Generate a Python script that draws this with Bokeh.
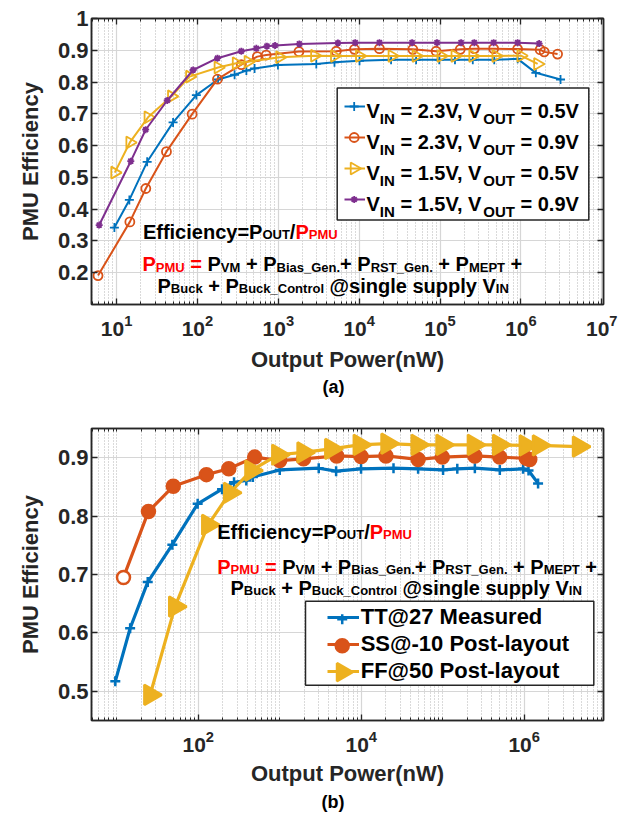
import math
from bokeh.plotting import figure
from bokeh.models import (Range1d, FixedTicker, LogAxis, LinearAxis, Label, BoxAnnotation,
                          Legend, LegendItem, NumeralTickFormatter, CustomJSTickFormatter, Title)
from bokeh.layouts import column
from bokeh.embed import file_html
from bokeh.resources import INLINE

# ---------------- data: panel (a) ----------------
a_blue_x = [9.4, 14.4, 23.9, 50, 97, 180, 288, 403, 509, 990, 2950, 4950, 10100, 24800,
            50600, 97700, 153000, 254000, 468000, 912000, 1530000, 3090000]
a_blue_y = [0.342, 0.429, 0.549, 0.673, 0.759, 0.808, 0.823, 0.836, 0.843, 0.854, 0.857,
            0.862, 0.867, 0.870, 0.870, 0.870, 0.870, 0.870, 0.870, 0.873, 0.829, 0.808]

a_orange_x = [5.9, 14.6, 23, 41.4, 86, 177, 349, 550, 708, 1800, 5200, 8750, 17800, 46000,
              89300, 178000, 265000, 460000, 910000, 1730000, 1940000, 2840000]
a_orange_y = [0.191, 0.360, 0.465, 0.581, 0.699, 0.809, 0.855, 0.880, 0.885, 0.896, 0.897,
              0.903, 0.905, 0.903, 0.897, 0.903, 0.905, 0.905, 0.904, 0.902, 0.895, 0.888]

a_yellow_x = [9.5, 14.6, 24.5, 47.8, 80, 180, 302, 423, 1040, 2810, 4950, 10100, 25500,
              50600, 103000, 153000, 254000, 491000, 1000000, 1610000]
a_yellow_y = [0.515, 0.610, 0.689, 0.755, 0.817, 0.846, 0.859, 0.864, 0.878, 0.883, 0.882,
              0.882, 0.882, 0.882, 0.882, 0.882, 0.882, 0.882, 0.883, 0.857]

a_purple_x = [6.1, 15, 22.9, 42.3, 88.5, 177, 349, 535, 724, 912, 1820, 5460, 8930, 17800,
              45100, 91800, 182000, 265000, 460000, 910000, 1680000]
a_purple_y = [0.350, 0.551, 0.650, 0.742, 0.838, 0.875, 0.897, 0.906, 0.913, 0.915, 0.920,
              0.923, 0.924, 0.924, 0.924, 0.924, 0.924, 0.924, 0.924, 0.924, 0.921]

a_vin = ["2.3", "2.3", "1.5", "1.5"]
a_vout = ["0.5", "0.9", "0.5", "0.9"]
a_xticks = [1e1, 1e2, 1e3, 1e4, 1e5, 1e6, 1e7]
a_yticks = [0.2, 0.3, 0.4, 0.5, 0.6, 0.7, 0.8, 0.9, 1.0]

# ---------------- data: panel (b) ----------------
b_blue_x = [9.6, 14.6, 24, 48.1, 98.4, 196, 275, 389, 468, 1000, 3010, 4920, 9950, 24900,
            49900, 101000, 151000, 248000, 502000, 968000, 1130000, 1480000]
b_blue_y = [0.517, 0.608, 0.687, 0.751, 0.821, 0.846, 0.858, 0.861, 0.867, 0.879, 0.882,
            0.877, 0.881, 0.882, 0.881, 0.879, 0.881, 0.882, 0.879, 0.881, 0.878, 0.856]

b_orange_x = [12.1, 24.5, 49.4, 126, 237, 493, 1000, 1960, 5000, 9950, 20100, 49900, 98900,
              248000, 501000, 1060000, 1170000]
b_orange_y = [0.695, 0.808, 0.851, 0.871, 0.881, 0.901, 0.895, 0.898, 0.903, 0.902, 0.903,
              0.897, 0.901, 0.903, 0.901, 0.899, 0.897]

b_yellow_x = [25.7, 51.9, 132, 245, 447, 955, 1950, 4270, 9550, 20900, 49000, 98900, 240000,
              490000, 1040000, 1510000, 4680000]
b_yellow_y = [0.494, 0.645, 0.785, 0.840, 0.878, 0.905, 0.909, 0.915, 0.922, 0.924, 0.922,
              0.922, 0.922, 0.922, 0.921, 0.921, 0.919]

b_labels = ["TT@27 Measured", "SS@-10 Post-layout", "FF@50 Post-layout"]
b_xticks = [1e2, 1e4, 1e6]
b_yticks = [0.5, 0.6, 0.7, 0.8, 0.9]

# ---------------- style ----------------
FONT = "Liberation Sans"
AX = "#262626"
TXT = "#000000"
RED = "#FF0000"
BLUE, ORANGE, YELLOW, PURPLE = "#0072BD", "#D95319", "#EDB120", "#7E2F8E"

# Arial / Liberation Sans Bold advance widths (1/1000 em)
W = {' ': 278, '!': 333, '(': 333, ')': 333, '+': 584, ',': 278, '-': 333, '.': 278, '/': 278,
     '=': 584, '@': 975, '_': 556,
     'A': 722, 'B': 722, 'C': 722, 'D': 722, 'E': 667, 'F': 611, 'G': 778, 'H': 722, 'I': 278,
     'J': 556, 'K': 722, 'L': 611, 'M': 833, 'N': 722, 'O': 778, 'P': 667, 'Q': 778, 'R': 722,
     'S': 667, 'T': 611, 'U': 722, 'V': 667, 'W': 944, 'X': 667, 'Y': 667, 'Z': 611,
     'a': 556, 'b': 611, 'c': 556, 'd': 611, 'e': 556, 'f': 333, 'g': 611, 'h': 611, 'i': 278,
     'j': 278, 'k': 556, 'l': 278, 'm': 889, 'n': 611, 'o': 611, 'p': 611, 'q': 611, 'r': 389,
     's': 556, 't': 333, 'u': 611, 'v': 556, 'w': 778, 'x': 556, 'y': 556, 'z': 500}


def tw(s, size):
    return sum(W.get(c, 556) for c in s) / 1000.0 * size


def rich(p, x, y, segs):
    cx = x
    for txt, size, color, dy in segs:
        stripped = txt.lstrip(' ')
        cx += tw(txt[:len(txt) - len(stripped)], size)
        if stripped:
            p.add_layout(Label(x=cx, y=y + dy, x_units="screen", y_units="screen",
                               text=stripped, text_font=FONT, text_font_style="bold",
                               text_font_size=f"{size}px", text_color=color,
                               text_baseline="alphabetic", text_align="left"))
        cx += tw(stripped, size)


def minor_list(lo, hi, majors):
    out = []
    for e in range(0, 8):
        for k in range(1, 10):
            v = k * 10.0 ** e
            if lo < v < hi and not any(abs(v - m) < 1e-9 * m for m in majors):
                out.append(v)
    return out


def tick_style(ax):
    ax.axis_line_color = AX
    ax.axis_line_width = 1.5
    ax.major_tick_line_color = AX
    ax.major_tick_line_width = 1.3
    ax.major_tick_in = 6
    ax.major_tick_out = 0
    ax.minor_tick_line_color = AX
    ax.minor_tick_line_width = 1.0
    ax.minor_tick_in = 3
    ax.minor_tick_out = 0


def setup(p, xticks, xlo, xhi, yticks, yfmt):
    bx = p.below[0]
    ly = p.left[0]
    xt = FixedTicker(ticks=xticks, minor_ticks=minor_list(xlo, xhi, xticks))
    yt = FixedTicker(ticks=yticks)
    for ax in (bx, ly):
        tick_style(ax)
        ax.major_label_text_font = FONT
        ax.major_label_text_font_style = "bold"
        ax.major_label_text_color = AX
        ax.axis_label_text_font = FONT
        ax.axis_label_text_font_style = "bold"
        ax.axis_label_text_color = AX
        ax.axis_label_text_font_size = "22px"
    bx.ticker = xt
    bx.major_label_text_font_size = "21px"
    bx.axis_label = "Output Power(nW)"
    ly.ticker = yt
    ly.minor_tick_line_color = None
    ly.major_label_text_font_size = "22px"
    ly.formatter = NumeralTickFormatter(format=yfmt)
    ly.axis_label = "PMU Efficiency"
    ly.major_label_standoff = 3
    ly.axis_label_standoff = 12
    blank = CustomJSTickFormatter(code="return ''")
    top = LogAxis(ticker=xt, formatter=blank, major_label_standoff=0,
                  major_label_text_font_size="1px")
    right = LinearAxis(ticker=yt, formatter=blank, major_label_standoff=0,
                       major_label_text_font_size="1px")
    tick_style(top)
    tick_style(right)
    right.minor_tick_line_color = None
    p.add_layout(top, "above")
    p.add_layout(right, "right")
    p.xgrid.ticker = xt
    p.ygrid.ticker = yt
    p.xgrid.grid_line_color = "#d6d6d6"
    p.xgrid.grid_line_width = 1.2
    p.xgrid.minor_grid_line_color = "#b4b4b4"
    p.xgrid.minor_grid_line_dash = "1 2"
    p.xgrid.minor_grid_line_width = 1.0
    p.ygrid.grid_line_color = "#d6d6d6"
    p.ygrid.grid_line_width = 1.2
    p.outline_line_color = AX
    p.outline_line_width = 1.5
    return bx, ly


def legend_block(p, series, FL, FB, xr, yr, fw, fh, box, glyph_left, glyph_w, row0, pitch,
                 labels, font_size, sizes):
    """Legend box + sample lines (bokeh Legend) + sample markers drawn above the box."""
    p.add_layout(BoxAnnotation(left=box[0] - FL, right=box[2] - FL, top=FB - box[1],
                               bottom=FB - box[3], left_units="screen", right_units="screen",
                               top_units="screen", bottom_units="screen", fill_color="white",
                               fill_alpha=1.0, line_color=AX, line_width=1.5, line_alpha=1.0,
                               level="annotation"))
    n = len(series)
    gh = pitch - 1
    top_img = row0 - gh / 2.0
    bottom_img = top_img + n * gh + (n - 1)
    items = [LegendItem(label=lab, renderers=[s[0]]) for s, lab in zip(series, labels)]
    leg = Legend(items=items, location=(glyph_left - FL, FB - bottom_img), glyph_width=glyph_w,
                 glyph_height=gh, label_height=gh, spacing=1, padding=0, margin=0,
                 label_standoff=2, label_text_font=FONT, label_text_font_style="bold",
                 label_text_font_size=font_size, label_text_color=TXT,
                 border_line_alpha=0, background_fill_alpha=0)
    p.add_layout(leg)
    lx0, lx1 = math.log10(xr[0]), math.log10(xr[1])
    cx = glyph_left + glyph_w / 2.0 - FL
    xd = 10 ** (lx0 + cx / fw * (lx1 - lx0))
    for i, (s, sz) in enumerate(zip(series, sizes)):
        _, c, mk, fc, ang, lw = s
        cy = FB - (row0 + pitch * i)
        yd = yr[0] + cy / fh * (yr[1] - yr[0])
        p.scatter([xd], [yd], marker=mk, size=sz, line_color=c, fill_color=fc,
                  line_width=lw, angle=ang, level="overlay")


# ================= panel (a) =================
FL1, FB1, FT1, FR1 = 90, 304, 18, 603
XR1, YR1 = (4.9, 1.05e7), (0.1, 1.0)
p1 = figure(width=618, height=400, x_axis_type="log", x_range=Range1d(*XR1),
            y_range=Range1d(*YR1), output_backend="svg", toolbar_location=None,
            min_border_left=FL1, min_border_right=618 - FR1, min_border_top=FT1,
            min_border_bottom=400 - FB1,
            background_fill_color="white", border_fill_color="white")
bx1, ly1 = setup(p1, a_xticks, XR1[0], XR1[1], a_yticks, "0.[0]")
bx1.major_label_standoff = 10
bx1.axis_label_standoff = 8

series_a = [
    (a_blue_x, a_blue_y, BLUE, "cross", 9, BLUE, 0.0),
    (a_orange_x, a_orange_y, ORANGE, "circle", 9, None, 0.0),
    (a_yellow_x, a_yellow_y, YELLOW, "triangle", 12, None, -math.pi / 2),
    (a_purple_x, a_purple_y, PURPLE, "asterisk", 7, PURPLE, 0.0),
]
leg_a = []
for xs, ys, c, mk, sz, fc, ang in series_a:
    lr = p1.line(xs, ys, line_color=c, line_width=2)
    p1.scatter(xs, ys, marker=mk, size=sz, line_color=c, fill_color=fc, line_width=1.8, angle=ang)
    leg_a.append((lr, c, mk, fc, ang, 1.8))

legend_block(p1, leg_a, FL1, FB1, XR1, YR1, FR1 - FL1, FB1 - FT1,
             box=(335.7, 87.5, 587.3, 219.5), glyph_left=342.7, glyph_w=21, row0=106, pitch=31,
             labels=[" "] * 4, font_size="1px", sizes=[9, 9, 12, 7])
for i in range(4):
    by = FB1 - (110 + 31 * i)
    rich(p1, 365 - FL1, by, [("V", 20, TXT, 0), ("IN", 15, TXT, -8),
                             (f" = {a_vin[i]}V, V", 20, TXT, 0), ("OUT", 15, TXT, -8),
                             (f" = {a_vout[i]}V", 20, TXT, 0)])

# formula annotations (a)
SUB = -3
line1 = [("Efficiency=P", 20, TXT, 0), ("OUT", 13, TXT, SUB), ("/", 20, TXT, 0),
         ("P", 20, RED, 0), ("PMU", 13, RED, SUB)]
line2 = [("P", 20, RED, 0), ("PMU", 13, RED, SUB), (" = ", 20, RED, 0), ("P", 20, TXT, 0),
         ("VM", 13, TXT, SUB), (" + P", 20, TXT, 0), ("Bias_Gen.", 13, TXT, SUB),
         ("+ P", 20, TXT, 0), ("RST_Gen.", 13, TXT, SUB), (" + P", 20, TXT, 0),
         ("MEPT", 13, TXT, SUB), (" +", 20, TXT, 0)]
line3 = [("P", 20, TXT, 0), ("Buck", 13, TXT, SUB), (" + P", 20, TXT, 0),
         ("Buck_Control", 13, TXT, SUB), (" @single supply V", 20, TXT, 0), ("IN", 13, TXT, SUB)]
rich(p1, 141.4 - FL1, FB1 - 231, line1)
rich(p1, 141 - FL1, FB1 - 263.5, line2)
rich(p1, 156 - FL1, FB1 - 285, line3)
p1.add_layout(Title(text="(a)", align="left", offset=231, standoff=0, text_font=FONT,
                    text_font_style="bold", text_font_size="18px", text_color=TXT), "below")

# ================= panel (b) =================
FL2, FB2, FT2, FR2 = 91, 326, 28, 605   # frame in figure-(b) pixels
OFF2 = 400                              # figure (b) starts at page y = 400
XR2, YR2 = (4.9, 9.4e6), (0.45, 0.95)
p2 = figure(width=618, height=412, x_axis_type="log", x_range=Range1d(*XR2),
            y_range=Range1d(*YR2), output_backend="svg", toolbar_location=None,
            min_border_left=FL2, min_border_right=618 - FR2, min_border_top=FT2,
            min_border_bottom=412 - FB2,
            background_fill_color="white", border_fill_color="white")
bx2, ly2 = setup(p2, b_xticks, XR2[0], XR2[1], b_yticks, "0.0")
bx2.major_label_standoff = 10
bx2.axis_label_standoff = 6

# the first SS@-10 marker is drawn open in the original figure
orange_fill_b = ["white"] + [ORANGE] * (len(b_orange_x) - 1)
series_b = [
    (b_blue_x, b_blue_y, BLUE, "cross", 10, BLUE, 0.0),
    (b_orange_x, b_orange_y, ORANGE, "circle", 13, orange_fill_b, 0.0),
    (b_yellow_x, b_yellow_y, YELLOW, "triangle", 20, YELLOW, -math.pi / 2),
]
leg_b = []
for xs, ys, c, mk, sz, fc, ang in series_b:
    lr = p2.line(xs, ys, line_color=c, line_width=3.2)
    p2.scatter(xs, ys, marker=mk, size=sz, line_color=c, fill_color=fc, line_width=2.5, angle=ang)
    leg_b.append((lr, c, mk, c, ang, 2.5))

FBp = FB2 + OFF2  # frame bottom in page pixels
legend_block(p2, leg_b, FL2, FBp, XR2, YR2, FR2 - FL2, FB2 - FT2,
             box=(305, 606.7, 593.3, 690.7), glyph_left=326.7, glyph_w=32, row0=622.7, pitch=27,
             labels=b_labels, font_size="22px", sizes=[10, 13, 18])

rich(p2, 216.7 - FL2, FBp - 537, line1)
rich(p2, 216.7 - FL2, FBp - 572, line2)
rich(p2, 230 - FL2, FBp - 593.3, line3)
p2.add_layout(Title(text="(b)", align="left", offset=230, standoff=2, text_font=FONT,
                    text_font_style="bold", text_font_size="18px", text_color=TXT), "below")

page = column(p1, p2, spacing=0)
open("out.html", "w").write(file_html(page, INLINE))
